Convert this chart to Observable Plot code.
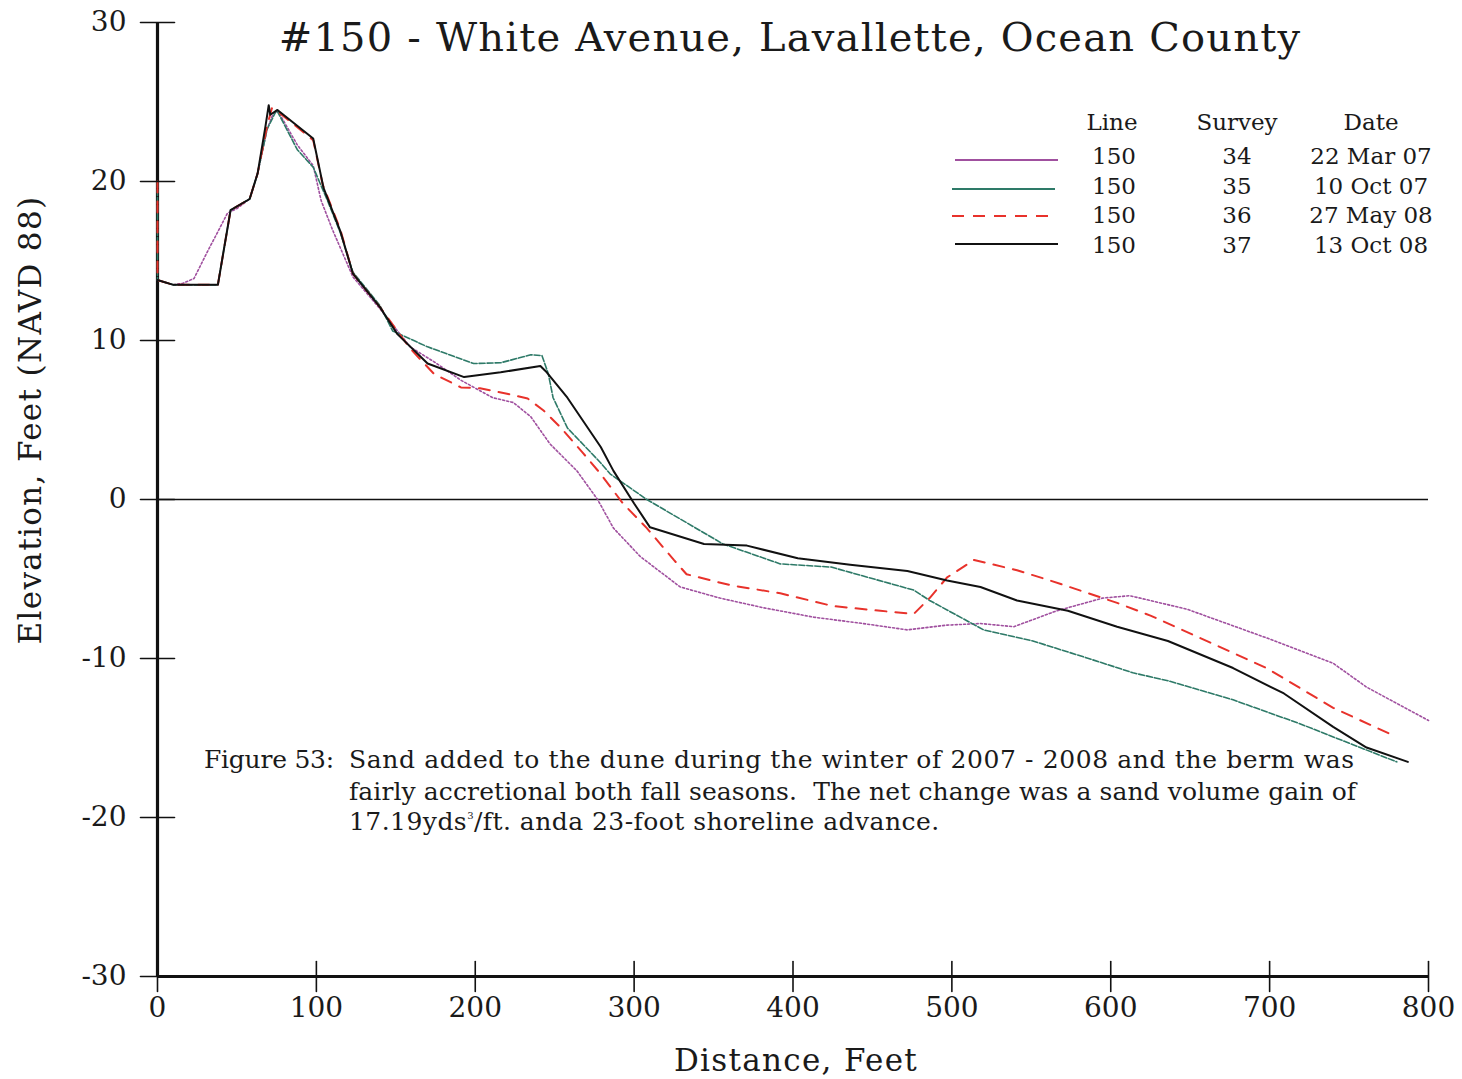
<!DOCTYPE html>
<html>
<head>
<meta charset="utf-8">
<script src="https://cdn.jsdelivr.net/npm/d3@7"></script>
<script src="https://cdn.jsdelivr.net/npm/@observablehq/plot@0.6"></script>
<style>
  html, body { margin: 0; padding: 0; background: #fff; }
  #wrap { position: relative; width: 1462px; height: 1079px; font-family: "DejaVu Serif", serif; color: #1a1a1a; }
  .ov { position: absolute; white-space: pre; }
  #title { left: 0; width: 1580px; top: 14px; text-align: center; font-size: 40px; letter-spacing: 1.2px; }
  #ylabel { left: 30px; top: 420px; font-size: 31px; letter-spacing: 1.35px; transform: translate(-50%, -50%) rotate(-90deg); }
  #xlabel { left: 796px; top: 1060px; font-size: 31px; letter-spacing: 1.3px; transform: translate(-50%, -50%); }
  .lg { font-size: 23px; transform: translate(-50%, -50%); }
  .cap { font-size: 25px; transform: translateY(-50%); }
  sup { font-size: 10px; vertical-align: 11px; }
</style>
</head>
<body>
<div id="wrap"></div>
<script>
// ---- data ----
const xTicks = [0, 100, 200, 300, 400, 500, 600, 700, 800];
const yTicks = [-30, -20, -10, 0, 10, 20, 30];

// Survey 34, 22 Mar 07 (distance ft, elevation ft)
const survey34 = [[0,13.8],[10,13.5],[16,13.6],[23,13.9],[31,15.5],[44,18],[50,18.3],[58,18.9],[63,20.5],[69,23.3],[73,24.3],[76,24.4],[88,22.3],[98,21],[103,18.8],[110,17],[123,14],[140,12],[159,9.6],[175,8.6],[191,7.5],[211,6.4],[224,6.1],[235,5.2],[247,3.5],[264,1.8],[277,0],[287,-1.8],[304,-3.6],[329,-5.5],[354,-6.2],[381,-6.8],[413,-7.4],[444,-7.8],[472,-8.2],[497,-7.9],[518,-7.8],[539,-8],[566,-7],[595,-6.2],[612,-6.05],[648,-6.9],[698,-8.7],[740,-10.3],[761,-11.8],[800,-13.9]];
// Survey 35, 10 Oct 07
const survey35 = [[0,20],[0,13.8],[10,13.5],[38,13.5],[46,18.2],[58,18.9],[63,20.5],[69,23.3],[75,24.5],[88,22],[98,20.9],[107,18.8],[115,16.8],[123,14.3],[140,12.2],[148,10.6],[170,9.6],[199,8.55],[216,8.6],[235,9.1],[242,9.05],[246,7.9],[249,6.4],[258,4.5],[279,2.3],[285,1.6],[308,0],[356,-2.8],[392,-4.05],[424,-4.25],[476,-5.7],[486,-6.35],[520,-8.2],[551,-8.9],[583,-9.9],[614,-10.9],[636,-11.4],[677,-12.6],[719,-14.1],[757,-15.6],[780,-16.5]];
// Survey 36, 27 May 08
const survey36 = [[0,20],[0,13.8],[10,13.5],[38,13.5],[46,18.2],[58,18.9],[63,20.5],[69,23.5],[72,24.6],[77,24.3],[98,22.6],[104,19.8],[115,17],[123,14.2],[140,12.1],[159,9.5],[174,7.9],[191,7.05],[203,7],[220,6.65],[233,6.35],[243,5.6],[254,4.5],[268,2.9],[279,1.6],[293,-0.25],[308,-1.8],[325,-3.8],[333,-4.7],[361,-5.4],[392,-5.9],[425,-6.7],[455,-7],[476,-7.2],[486,-6.2],[497,-4.9],[514,-3.8],[541,-4.45],[562,-5.1],[583,-5.8],[604,-6.5],[625,-7.3],[656,-8.7],[698,-10.6],[740,-13.1],[777,-14.8]];
// Survey 37, 13 Oct 08
const survey37 = [[0,13.8],[10,13.5],[38,13.5],[46,18.2],[58,18.9],[63,20.5],[68,23.5],[70,24.8],[71,24.2],[75.5,24.5],[98,22.7],[104.5,19.6],[115,16.9],[123,14.2],[140,12.1],[151,10.4],[170,8.55],[193,7.7],[216,8],[241,8.4],[245,8],[258,6.4],[279,3.3],[287,1.8],[300,-0.25],[310,-1.75],[344,-2.8],[371,-2.9],[403,-3.7],[436,-4.1],[472,-4.5],[497,-5.1],[518,-5.5],[541,-6.35],[573,-7],[604,-8],[636,-8.9],[677,-10.6],[709,-12.2],[740,-14.3],[761,-15.6],[787,-16.5]];

const legendHeader = ["Line", "Survey", "Date"];
const legendLine = ["150", "150", "150", "150"];
const legendSurvey = ["34", "35", "36", "37"];
const legendDate = ["22 Mar 07", "10 Oct 07", "27 May 08", "13 Oct 08"];

const titleText = "#150 - White Avenue, Lavallette, Ocean County";
const xLabel = "Distance, Feet";
const yLabel = "Elevation, Feet (NAVD 88)";
const captionLead = "Figure 53:";
const captionLines = [
  "Sand added to the dune during the winter of 2007 - 2008 and the berm was",
  "fairly accretional both fall seasons.  The net change was a sand volume gain of",
  "17.19yds<sup>3</sup>/ft. anda 23-foot shoreline advance."
];

// ---- styles ----
const styles = [
  {stroke: "#a0509f", dash: "2,2.2", width: 1.6, legendDash: null},
  {stroke: "#2e7a68", dash: "6,2", width: 1.6, legendDash: null},
  {stroke: "#e8322b", dash: "11,9", width: 2, legendDash: "12,9"},
  {stroke: "#111111", dash: null, width: 2, legendDash: null}
];
const seriesData = [survey34, survey35, survey36, survey37];
const capSpacing = [0.62, 0.1, 0.45];

const hline = {draw(context, l) { context.moveTo(-l / 2, 0); context.lineTo(l / 2, 0); }};
const vline = {draw(context, l) { context.moveTo(0, -l / 2); context.lineTo(0, l / 2); }};

const chart = Plot.plot({
  width: 1462,
  height: 1079,
  marginLeft: 157,
  marginRight: 34,
  marginTop: 22,
  marginBottom: 103,
  style: {fontFamily: "DejaVu Serif, serif", fontSize: "28px", color: "#1a1a1a", background: "transparent", overflow: "visible"},
  x: {domain: [0, 800], ticks: xTicks, label: null},
  y: {domain: [-30, 30], ticks: yTicks, label: null},
  marks: [
    Plot.ruleX([0], {stroke: "#111", strokeWidth: 3.2}),
    Plot.ruleY([0], {stroke: "#111", strokeWidth: 1.6}),
    ...seriesData.map((d, i) => Plot.line(d, {
      x: p => p[0], y: p => p[1],
      stroke: styles[i].stroke, strokeWidth: styles[i].width,
      strokeDasharray: styles[i].dash
    })),
    Plot.ruleY([-30], {stroke: "#111", strokeWidth: 3.2}),
    Plot.vector(yTicks, {x: () => 0, y: d => d, length: 34, anchor: "start", shape: hline, stroke: "#111", strokeWidth: 1.6}),
    Plot.vector(xTicks, {x: d => d, y: () => -30, length: 30, anchor: "start", shape: vline, stroke: "#111", strokeWidth: 1.6}),
    Plot.axisY({ticks: yTicks, tickSize: 0, tickPadding: 31, tickFormat: d => String(d), label: null}),
    Plot.axisX({ticks: xTicks, tickSize: 0, tickPadding: 21, tickFormat: d => String(d), label: null})
  ]
});

const wrap = document.getElementById("wrap");
wrap.appendChild(chart);

function addDiv(cls, id, html, left, top) {
  const d = document.createElement("div");
  d.className = "ov " + cls;
  if (id) d.id = id;
  d.innerHTML = html;
  if (left != null) d.style.left = left + "px";
  if (top != null) d.style.top = top + "px";
  wrap.appendChild(d);
  return d;
}

addDiv("", "title", titleText);
addDiv("", "ylabel", yLabel);
addDiv("", "xlabel", xLabel);

// legend
const colX = [1112, 1237, 1371];
legendHeader.forEach((t, j) => addDiv("lg", null, t, colX[j], 122));
const rowY = [156, 186, 215, 245];
const lineY = [160, 189, 216, 244];
const lineX0 = [955, 952, 952, 955];
const svgNS = "http://www.w3.org/2000/svg";
const lsvg = document.createElementNS(svgNS, "svg");
lsvg.setAttribute("width", 1462); lsvg.setAttribute("height", 300);
lsvg.style.position = "absolute"; lsvg.style.left = "0px"; lsvg.style.top = "0px";
styles.forEach((s, i) => {
  const ln = document.createElementNS(svgNS, "line");
  ln.setAttribute("x1", lineX0[i]); ln.setAttribute("x2", lineX0[i] + 103);
  ln.setAttribute("y1", lineY[i]); ln.setAttribute("y2", lineY[i]);
  ln.setAttribute("stroke", s.stroke); ln.setAttribute("stroke-width", 2);
  if (s.legendDash) ln.setAttribute("stroke-dasharray", s.legendDash);
  lsvg.appendChild(ln);
  addDiv("lg", null, legendLine[i], colX[0] + 2, rowY[i]);
  addDiv("lg", null, legendSurvey[i], colX[1], rowY[i]);
  addDiv("lg", null, legendDate[i], colX[2], rowY[i]);
});
wrap.appendChild(lsvg);

// caption
const lead = addDiv("cap", null, captionLead, 204, 759);
lead.style.letterSpacing = "-0.25px";
const capY = [759, 791, 821];
captionLines.forEach((t, i) => {
  const d = addDiv("cap", null, t, 349, capY[i]);
  d.style.letterSpacing = capSpacing[i] + "px";
});
</script>
</body>
</html>
